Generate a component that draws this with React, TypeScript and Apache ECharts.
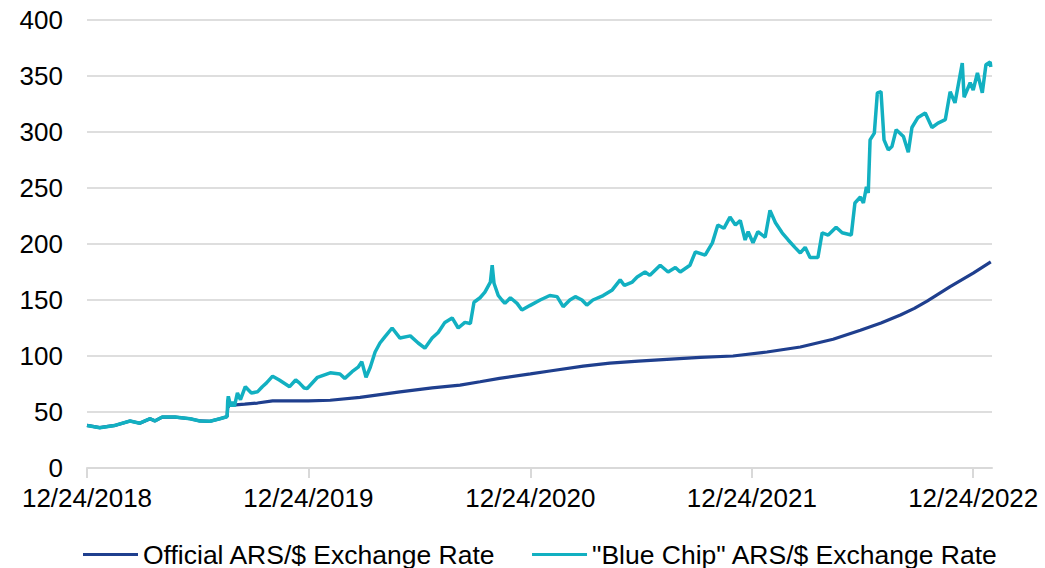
import React, { useEffect, useRef } from "react";
import * as echarts from "echarts";

const START_DATE = "2018-12-24";
const AXIS_END_DATE = "2023-01-24";
const tickDates = ["2018-12-24", "2019-12-24", "2020-12-24", "2021-12-24", "2022-12-24"];
const tickLabels = ["12/24/2018", "12/24/2019", "12/24/2020", "12/24/2021", "12/24/2022"];

const seriesNames = ["Official ARS/$ Exchange Rate", "\"Blue Chip\" ARS/$ Exchange Rate"];

const officialDates = [
  "2018-12-24", "2019-01-14", "2019-02-08", "2019-03-05", "2019-03-21", "2019-04-07", "2019-04-15",
  "2019-04-27", "2019-05-18", "2019-06-12", "2019-06-28", "2019-07-15", "2019-07-31", "2019-08-10",
  "2019-08-12", "2019-08-13", "2019-08-16", "2019-09-10", "2019-10-01", "2019-10-26", "2019-12-24",
  "2020-01-29", "2020-03-18", "2020-05-23", "2020-07-15", "2020-08-30", "2020-10-02", "2020-11-03",
  "2020-12-24", "2021-01-25", "2021-03-21", "2021-05-04", "2021-06-20", "2021-08-06", "2021-09-30",
  "2021-11-23", "2022-01-18", "2022-03-14", "2022-05-07", "2022-06-21", "2022-07-25", "2022-08-26",
  "2022-09-18", "2022-10-09", "2022-11-16", "2022-12-24", "2023-01-22",
];
const officialValues = [
  38, 36, 38, 42, 40, 44, 42,
  45.5, 45.5, 44, 42, 41.7, 44, 45.5,
  46, 54, 56, 57, 58, 60, 60,
  60.5, 63, 68, 71.5, 74, 77, 80,
  84, 86.6, 91, 93.7, 95.5, 97, 98.7,
  100, 103.6, 108, 115, 123, 129.5, 136.6,
  142.5, 149, 162, 174, 184,
];

const blueChipDates = [
  "2018-12-24", "2019-01-14", "2019-02-08", "2019-03-05", "2019-03-21", "2019-04-07", "2019-04-15",
  "2019-04-27", "2019-05-18", "2019-06-12", "2019-06-28", "2019-07-15", "2019-07-31", "2019-08-10",
  "2019-08-12", "2019-08-13", "2019-08-14", "2019-08-18", "2019-08-21", "2019-08-24", "2019-08-29",
  "2019-09-03", "2019-09-11", "2019-09-21", "2019-10-01", "2019-10-09", "2019-10-16", "2019-10-26",
  "2019-11-06", "2019-11-23", "2019-12-03", "2019-12-09", "2019-12-17", "2019-12-22", "2020-01-08",
  "2020-01-29", "2020-02-14", "2020-02-22", "2020-03-05", "2020-03-15", "2020-03-21", "2020-03-28",
  "2020-04-04", "2020-04-12", "2020-04-20", "2020-04-28", "2020-05-10", "2020-05-23", "2020-06-09",
  "2020-06-22", "2020-07-03", "2020-07-15", "2020-07-25", "2020-08-05", "2020-08-17", "2020-08-27",
  "2020-09-07", "2020-09-16", "2020-09-22", "2020-10-02", "2020-10-10", "2020-10-19", "2020-10-22",
  "2020-10-25", "2020-11-01", "2020-11-07", "2020-11-12", "2020-11-21", "2020-12-02", "2020-12-10",
  "2020-12-23", "2021-01-09", "2021-01-25", "2021-02-06", "2021-02-16", "2021-02-27", "2021-03-08",
  "2021-03-19", "2021-03-27", "2021-04-06", "2021-04-23", "2021-05-08", "2021-05-21", "2021-05-28",
  "2021-06-10", "2021-06-18", "2021-07-01", "2021-07-09", "2021-07-26", "2021-08-08", "2021-08-20",
  "2021-08-28", "2021-09-13", "2021-09-22", "2021-10-08", "2021-10-20", "2021-10-29", "2021-11-08",
  "2021-11-18", "2021-11-27", "2021-12-05", "2021-12-13", "2021-12-18", "2021-12-26", "2022-01-03",
  "2022-01-15", "2022-01-23", "2022-02-01", "2022-02-12", "2022-02-22", "2022-03-05", "2022-03-14",
  "2022-03-22", "2022-03-30", "2022-04-12", "2022-04-19", "2022-04-29", "2022-05-12", "2022-05-22",
  "2022-06-06", "2022-06-12", "2022-06-21", "2022-06-26", "2022-07-01", "2022-07-04", "2022-07-07",
  "2022-07-14", "2022-07-19", "2022-07-25", "2022-07-30", "2022-08-06", "2022-08-12", "2022-08-19",
  "2022-08-31", "2022-09-08", "2022-09-14", "2022-09-24", "2022-10-06", "2022-10-17", "2022-10-27",
  "2022-11-08", "2022-11-16", "2022-11-24", "2022-12-06", "2022-12-09", "2022-12-19", "2022-12-24",
  "2022-12-31", "2023-01-08", "2023-01-14", "2023-01-21", "2023-01-22",
];
const blueChipValues = [
  38, 36, 38, 42, 40, 44, 42,
  45.5, 45.5, 44, 42, 41.7, 44, 45.5,
  46, 60, 64, 55, 59, 55, 67,
  61, 72.6, 67, 68, 72.6, 76, 82,
  78.6, 72.6, 78.6, 76, 71.4, 71, 81,
  85, 84, 80, 86, 90, 95, 81,
  90, 103.6, 111.6, 117, 125, 116, 118,
  111.6, 107, 116, 121, 130, 134, 125,
  130, 129, 148, 152, 157, 166, 181,
  165, 154, 150, 147, 152, 147, 141,
  145, 150, 154, 153, 144, 150, 153,
  150, 145.5, 150, 154, 159, 168, 163,
  166, 170.5, 175, 172, 181, 175, 179,
  175, 181, 193, 190, 201, 217, 214,
  224, 217, 221, 203.6, 211, 201, 211,
  206, 230, 219, 210, 203.6, 197, 192,
  197, 188, 188, 210, 208, 215, 210,
  208, 236.6, 242, 236.6, 251, 245.5, 293,
  299, 335, 336, 293, 284, 287, 302,
  296, 282, 304, 313, 317, 304, 308,
  311, 336, 326, 361.6, 331, 344, 337.5,
  352.7, 335, 360, 362.5, 358,
];

const yTicks = { min: 0, max: 400, interval: 50 };

const DAY = 86400000;
const toDay = (d: string) => Math.round((Date.parse(d) - Date.parse(START_DATE)) / DAY);

export default function App() {
  const ref = useRef<HTMLDivElement>(null);

  useEffect(() => {
    if (!ref.current) return;
    const chart = echarts.init(ref.current, null, { renderer: "svg" });
    const font = "'Liberation Sans', Arial, Helvetica, sans-serif";
    const tickDays = tickDates.map(toDay);
    const labelFor = (v: number) => {
      const i = tickDays.findIndex((t) => Math.abs(t - v) < 0.5);
      return i >= 0 ? tickLabels[i] : "";
    };
    chart.setOption({
      animation: false,
      textStyle: { fontFamily: font },
      grid: { left: 87, right: 53, top: 20, bottom: 100, containLabel: false },
      legend: {
        left: 78,
        top: 536,
        icon: "rect",
        itemWidth: 55,
        itemHeight: 3,
        itemGap: 36,
        textStyle: { fontSize: 26.5, color: "#000", fontFamily: font },
        data: seriesNames,
      },
      xAxis: {
        type: "value",
        min: 0,
        max: toDay(AXIS_END_DATE),
        axisLine: { show: true, lineStyle: { color: "#D9D9D9", width: 2 } },
        axisTick: {
          show: true,
          length: 10,
          customValues: tickDays,
          lineStyle: { color: "#D9D9D9", width: 2 },
        },
        axisLabel: {
          customValues: tickDays,
          formatter: (v: number) => labelFor(v),
          fontSize: 26,
          color: "#000",
          margin: 17,
          fontFamily: font,
        },
        splitLine: { show: false },
      },
      yAxis: {
        type: "value",
        min: yTicks.min,
        max: yTicks.max,
        interval: yTicks.interval,
        axisLine: { show: false },
        axisTick: { show: false },
        axisLabel: { fontSize: 26, color: "#000", margin: 24, fontFamily: font },
        splitLine: { lineStyle: { color: "#DEDEDE", width: 2 } },
      },
      series: [
        {
          name: seriesNames[0],
          type: "line",
          showSymbol: false,
          color: "#1F3F8E",
          lineStyle: { width: 3.2, color: "#1F3F8E" },
          data: officialDates.map((d, i) => [toDay(d), officialValues[i]]),
        },
        {
          name: seriesNames[1],
          type: "line",
          showSymbol: false,
          color: "#12B0C1",
          lineStyle: { width: 3.5, color: "#12B0C1" },
          data: blueChipDates.map((d, i) => [toDay(d), blueChipValues[i]]),
        },
      ],
    });
    return () => chart.dispose();
  }, []);

  return (
    <div
      ref={ref}
      style={{ position: "fixed", left: 0, top: 0, width: 1045, height: 568, background: "#fff" }}
    />
  );
}
